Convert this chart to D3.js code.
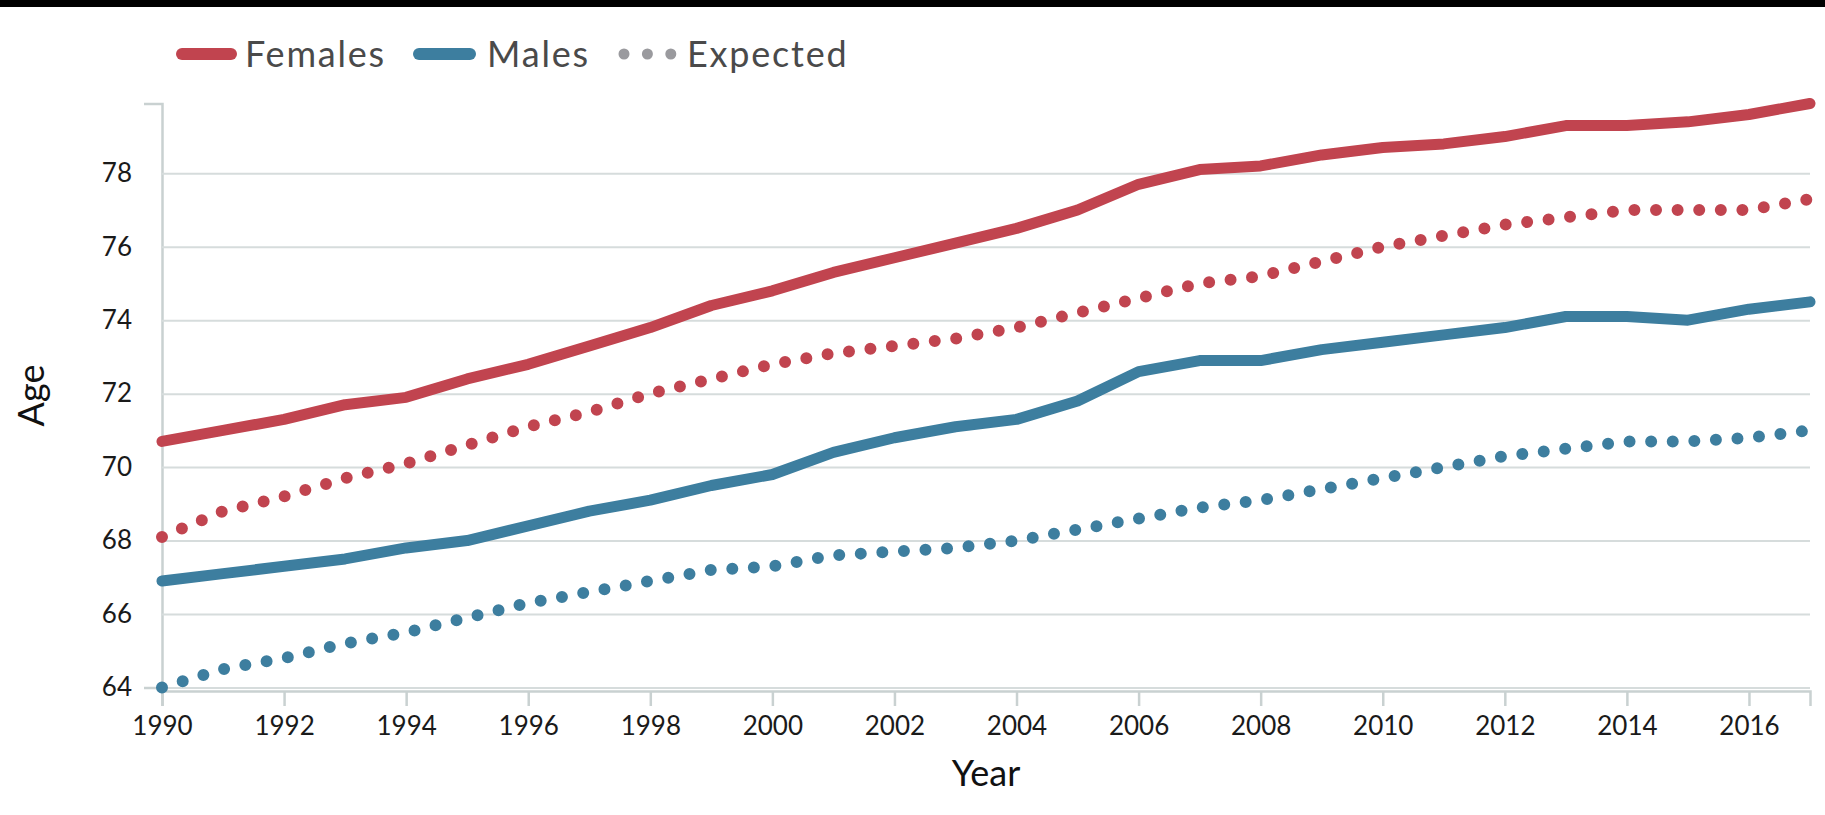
<!DOCTYPE html>
<html>
<head>
<meta charset="utf-8">
<script src="https://cdn.jsdelivr.net/npm/d3@7"></script>
<style>
  body { margin: 0; background: #fff; }
  svg { display: block; }
</style>
</head>
<body>
<svg id="chart" width="1825" height="815"></svg>
<script>
// ---- data ----
const years = [1990, 1991, 1992, 1993, 1994, 1995, 1996, 1997, 1998, 1999,
               2000, 2001, 2002, 2003, 2004, 2005, 2006, 2007, 2008, 2009,
               2010, 2011, 2012, 2013, 2014, 2015, 2016, 2017];
const femalesActual = [70.7, 71.0, 71.3, 71.7, 71.9, 72.4, 72.8, 73.3, 73.8, 74.4,
                       74.8, 75.3, 75.7, 76.1, 76.5, 77.0, 77.7, 78.1, 78.2, 78.5,
                       78.7, 78.8, 79.0, 79.3, 79.3, 79.4, 79.6, 79.9];
const malesActual = [66.9, 67.1, 67.3, 67.5, 67.8, 68.0, 68.4, 68.8, 69.1, 69.5,
                     69.8, 70.4, 70.8, 71.1, 71.3, 71.8, 72.6, 72.9, 72.9, 73.2,
                     73.4, 73.6, 73.8, 74.1, 74.1, 74.0, 74.3, 74.5];
const femalesExpected = [68.1, 68.8, 69.2, 69.7, 70.1, 70.6, 71.1, 71.5, 72.0, 72.4,
                         72.8, 73.1, 73.3, 73.5, 73.8, 74.2, 74.6, 75.0, 75.2, 75.6,
                         76.0, 76.3, 76.6, 76.8, 77.0, 77.0, 77.0, 77.3];
const malesExpected = [64.0, 64.5, 64.8, 65.2, 65.5, 65.9, 66.3, 66.6, 66.9, 67.2,
                       67.3, 67.6, 67.7, 67.8, 68.0, 68.3, 68.6, 68.9, 69.1, 69.4,
                       69.7, 70.0, 70.3, 70.5, 70.7, 70.7, 70.8, 71.0];
const xTickValues = [1990, 1992, 1994, 1996, 1998, 2000, 2002, 2004, 2006, 2008, 2010, 2012, 2014, 2016];
const yTickValues = [64, 66, 68, 70, 72, 74, 76, 78];
const legendLabels = ["Females", "Males", "Expected"];

// ---- styles ----
const RED = "#c1444f";
const BLUE = "#3d7e9f";
const GRID = "#d6dcdc";
const AXIS = "#c9d1d1";
const FONT = "Lato, 'Noto Sans', sans-serif";

const W = 1825, H = 815;
const plot = { left: 162, right: 1810, top: 103.5, bottom: 687.5 };

const svg = d3.select("#chart");

svg.append("rect").attr("x", 0).attr("y", 0).attr("width", W).attr("height", 7).attr("fill", "#000");

const allValues = femalesActual.concat(malesActual, femalesExpected, malesExpected);
const x = d3.scaleLinear().domain(d3.extent(years)).range([plot.left, plot.right]);
const y = d3.scaleLinear().domain(d3.extent(allValues)).range([plot.bottom, plot.top]);

// y axis + gridlines
const yAxis = d3.axisLeft(y)
  .tickValues(yTickValues)
  .tickSizeInner(-(plot.right - plot.left))
  .tickSizeOuter(18)
  .tickPadding(30)
  .tickFormat(d3.format("d"));
const gy = svg.append("g").attr("transform", `translate(${plot.left},0)`).call(yAxis);
gy.select(".domain").attr("stroke", AXIS).attr("stroke-width", 2.5).attr("fill", "none");
gy.selectAll(".tick line").attr("stroke", GRID).attr("stroke-width", 2);
gy.selectAll(".tick text").attr("fill", "#1a1a1a").style("font-family", FONT).style("font-size", "26px");

// x axis
const xAxis = d3.axisBottom(x)
  .tickValues(xTickValues)
  .tickSizeInner(15)
  .tickSizeOuter(15)
  .tickPadding(11)
  .tickFormat(d3.format("d"));
const gx = svg.append("g").attr("transform", `translate(0,${plot.bottom + 3.5})`).call(xAxis);
gx.select(".domain").attr("stroke", AXIS).attr("stroke-width", 2.5).attr("fill", "none");
gx.selectAll(".tick line").attr("stroke", AXIS).attr("stroke-width", 2.5);
gx.selectAll(".tick text").attr("fill", "#1a1a1a").style("font-family", FONT).style("font-size", "26px");

// axis titles
svg.append("text")
  .attr("x", (plot.left + plot.right) / 2).attr("y", 786)
  .attr("text-anchor", "middle")
  .style("font-family", FONT).style("font-size", "36px").attr("fill", "#111")
  .text("Year");
svg.append("text")
  .attr("transform", `translate(44,${(plot.top + plot.bottom) / 2}) rotate(-90)`)
  .attr("text-anchor", "middle")
  .style("font-family", FONT).style("font-size", "36px").attr("fill", "#111")
  .text("Age");

// lines
const line = d3.line().x((d, i) => x(years[i])).y(d => y(d));
const series = [
  { values: femalesExpected, color: RED, dotted: true },
  { values: malesExpected, color: BLUE, dotted: true },
  { values: femalesActual, color: RED, dotted: false },
  { values: malesActual, color: BLUE, dotted: false }
];
svg.append("g").selectAll("path").data(series).join("path")
  .attr("d", d => line(d.values))
  .attr("fill", "none")
  .attr("stroke", d => d.color)
  .attr("stroke-width", d => d.dotted ? 12 : 11)
  .attr("stroke-linecap", "round")
  .attr("stroke-linejoin", "round")
  .attr("stroke-dasharray", d => d.dotted ? "0,21.6" : null);

// legend
const ly = 54;
const leg = svg.append("g");
leg.append("line").attr("x1", 182).attr("x2", 231).attr("y1", ly).attr("y2", ly)
  .attr("stroke", RED).attr("stroke-width", 12).attr("stroke-linecap", "round");
leg.append("line").attr("x1", 419).attr("x2", 470).attr("y1", ly).attr("y2", ly)
  .attr("stroke", BLUE).attr("stroke-width", 12).attr("stroke-linecap", "round");
leg.append("line").attr("x1", 624).attr("x2", 671).attr("y1", ly).attr("y2", ly)
  .attr("stroke", "#9a9a9e").attr("stroke-width", 11).attr("stroke-linecap", "round")
  .attr("stroke-dasharray", "0,23.4");
const textX = [245, 487, 687];
leg.selectAll("text").data(legendLabels).join("text")
  .attr("x", (d, i) => textX[i]).attr("y", ly).attr("dy", "0.36em")
  .style("font-family", FONT).style("font-size", "36px").style("letter-spacing", "1.8px")
  .attr("fill", "#4a4a4a")
  .text(d => d);
</script>
</body>
</html>
